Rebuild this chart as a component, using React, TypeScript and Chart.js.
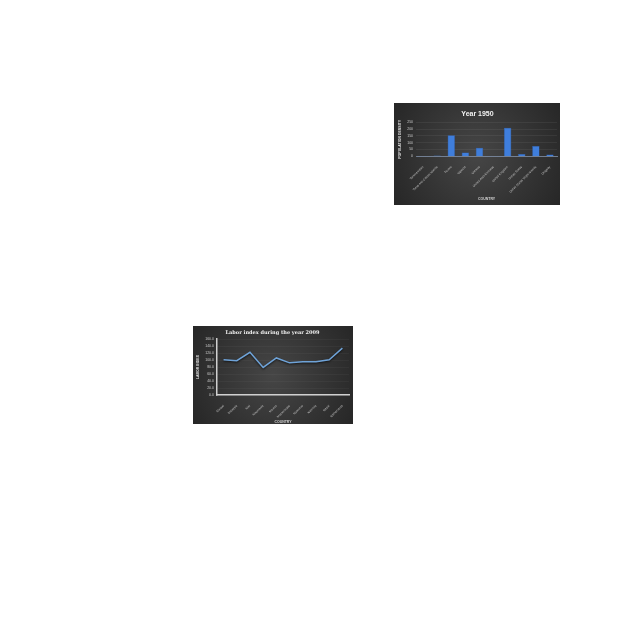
import React, { useEffect, useRef } from "react";
import { Chart, registerables } from "chart.js";
Chart.register(...registerables);

const barCountries = [
  "Turkmenistan",
  "Turks and Caicos Islands",
  "Tuvalu",
  "Uganda",
  "Ukraine",
  "United Arab Emirates",
  "United Kingdom",
  "United States",
  "United States Virgin Islands",
  "Uruguay",
];
const barDensity = [2, 5, 155, 27, 63, 1, 210, 17, 75, 12];
const barTitle = "Year 1950";
const barYTitle = "POPULATION DENSITY";
const barXTitle = "COUNTRY";

const lineCountries = [
  "Malawi",
  "Malaysia",
  "Mali",
  "Mauritania",
  "Mexico",
  "Mozambique",
  "Myanmar",
  "Namibia",
  "Nepal",
  "Netherlands",
];
const laborIndex = [101, 98, 122, 79, 106, 92, 95, 95, 101, 134];
const lineTitle = "Labor index during the year 2009";
const lineYTitle = "LABOR INDEX";
const lineXTitle = "COUNTRY";

const bgPlugin = {
  id: "darkBg",
  beforeDraw(chart: any) {
    const { ctx, width, height } = chart;
    const g = ctx.createRadialGradient(width / 2, height / 2, 0, width / 2, height / 2, Math.max(width, height) * 0.65);
    g.addColorStop(0, "#464646");
    g.addColorStop(1, "#232323");
    ctx.save();
    ctx.fillStyle = g;
    ctx.fillRect(0, 0, width, height);
    ctx.restore();
  },
};

const shadowPlugin = {
  id: "lineShadow",
  beforeDatasetsDraw(chart: any) {
    const ctx = chart.ctx;
    ctx.save();
    ctx.shadowColor = "rgba(0,0,0,0.7)";
    ctx.shadowBlur = 2;
    ctx.shadowOffsetY = 1;
  },
  afterDatasetsDraw(chart: any) {
    chart.ctx.restore();
  },
};

const sans = "'Liberation Sans', Arial, sans-serif";
const serif = "'DejaVu Serif', serif";

function BarChart() {
  const ref = useRef<HTMLCanvasElement>(null);
  useEffect(() => {
    const chart = new Chart(ref.current!, {
      type: "bar",
      data: {
        labels: barCountries,
        datasets: [
          {
            data: barDensity,
            backgroundColor: "#3F7EDC",
            borderColor: "#2E66C0",
            borderWidth: 0.5,
            barPercentage: 0.52,
            categoryPercentage: 1,
          },
        ],
      },
      options: {
        responsive: false,
        animation: false,
        layout: { padding: { left: 4, right: 3, top: 0, bottom: 4 } },
        plugins: {
          legend: { display: false },
          tooltip: { enabled: false },
          title: {
            display: true,
            text: barTitle,
            color: "#f2f2f2",
            font: { family: sans, size: 7, weight: "bold" },
            padding: { top: 7, bottom: 4 },
          },
        },
        scales: {
          x: {
            grid: { display: false },
            border: { display: true, color: "#7f8fa8", width: 0.8 },
            ticks: {
              color: "#c8c8c8",
              font: { family: sans, size: 3 },
              maxRotation: 45,
              minRotation: 45,
              autoSkip: false,
              padding: 1,
            },
            title: {
              display: true,
              text: barXTitle,
              color: "#d0d0d0",
              font: { family: sans, size: 3.5, weight: "bold" },
              padding: { top: 2, bottom: 0 },
            },
          },
          y: {
            min: 0,
            max: 250,
            grid: { color: "rgba(255,255,255,0.12)", lineWidth: 0.5, drawTicks: false },
            border: { display: false },
            ticks: {
              stepSize: 50,
              autoSkip: false,
              color: "#c8c8c8",
              font: { family: sans, size: 3.5 },
              padding: 3,
            },
            title: {
              display: true,
              text: barYTitle,
              color: "#e0e0e0",
              font: { family: sans, size: 3.5, weight: "bold" },
              padding: { top: 0, bottom: 2 },
            },
          },
        },
      },
      plugins: [bgPlugin],
    });
    return () => chart.destroy();
  }, []);
  return <canvas ref={ref} width={166} height={102} />;
}

function LineChart() {
  const ref = useRef<HTMLCanvasElement>(null);
  useEffect(() => {
    const chart = new Chart(ref.current!, {
      type: "line",
      data: {
        labels: lineCountries,
        datasets: [
          {
            data: laborIndex,
            borderColor: "#6FA3D8",
            borderWidth: 1.5,
            pointRadius: 0,
            tension: 0,
            fill: false,
          },
        ],
      },
      options: {
        responsive: false,
        animation: false,
        layout: { padding: { left: 3, right: 4, top: 1, bottom: 0 } },
        plugins: {
          legend: { display: false },
          tooltip: { enabled: false },
          title: {
            display: true,
            text: lineTitle,
            color: "#f2f2f2",
            font: { family: serif, size: 5, weight: "bold" },
            padding: { top: 3, bottom: 3 },
          },
        },
        scales: {
          x: {
            offset: true,
            grid: { display: false },
            border: { display: true, color: "#d0d0d0", width: 1.5 },
            ticks: {
              color: "#c8c8c8",
              font: { family: sans, size: 3 },
              maxRotation: 45,
              minRotation: 45,
              autoSkip: false,
              padding: 1,
            },
            title: {
              display: true,
              text: lineXTitle,
              color: "#d0d0d0",
              font: { family: sans, size: 3.5, weight: "bold" },
              padding: { top: 0, bottom: 0 },
            },
          },
          y: {
            min: 0,
            max: 160,
            grid: { color: "rgba(255,255,255,0.07)", lineWidth: 0.5, drawTicks: false },
            border: { display: true, color: "#d0d0d0", width: 1.5 },
            ticks: {
              stepSize: 20,
              autoSkip: false,
              color: "#c8c8c8",
              font: { family: sans, size: 3.5 },
              padding: 3,
              callback: (v: any) => Number(v).toFixed(1),
            },
            title: {
              display: true,
              text: lineYTitle,
              color: "#e0e0e0",
              font: { family: sans, size: 3.5, weight: "bold" },
              padding: { top: 0, bottom: 2 },
            },
          },
        },
      },
      plugins: [bgPlugin, shadowPlugin],
    });
    return () => chart.destroy();
  }, []);
  return <canvas ref={ref} width={160} height={98} />;
}

export default function App() {
  return (
    <div>
      <div style={{ position: "absolute", left: 394, top: 103, width: 166, height: 102 }}>
        <BarChart />
      </div>
      <div style={{ position: "absolute", left: 193, top: 326, width: 160, height: 98 }}>
        <LineChart />
      </div>
    </div>
  );
}
